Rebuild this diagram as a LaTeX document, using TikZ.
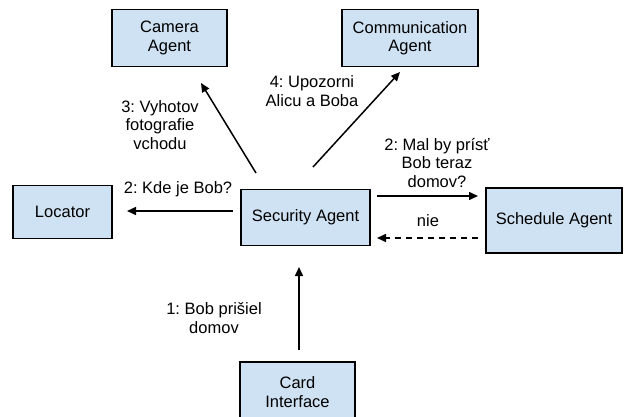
\documentclass[tikz,border=0pt]{standalone}
\usepackage{fontspec}
\setmainfont{Liberation Sans}
\usetikzlibrary{arrows.meta}
\definecolor{boxfill}{HTML}{CFE2F3}
\begin{document}
\frenchspacing
\begin{tikzpicture}[x=1pt,y=-1pt,
  agent/.style={draw=black,fill=boxfill,line width=1.3pt,align=center,inner sep=0pt,
    font=\fontsize{16.5}{18.5}\selectfont},
  lbl/.style={align=center,inner sep=0pt,font=\fontsize{16.5}{18.5}\selectfont},
  msg/.style={line width=1.5pt,-{Triangle[length=9pt,width=8pt]}},
  reply/.style={msg,dash pattern=on 6pt off 5pt}]
\useasboundingbox (0,0) rectangle (624,417);
\fill[white] (0,0) rectangle (624,417);
\node[agent,minimum width=115pt,minimum height=57pt] (cam) at (169.5,38) {Camera\\Agent};
\node[agent,minimum width=136pt,minimum height=57pt] (com) at (410,38) {Communication\\Agent};
\node[agent,minimum width=99pt,minimum height=53pt] (loc) at (62.5,212) {Locator};
\node[agent,minimum width=129pt,minimum height=56pt] (sec) at (305.5,217.5) {Security Agent};
\node[agent,minimum width=136pt,minimum height=65pt] (sch) at (554,220.5) {Schedule Agent};
\node[agent,minimum width=115pt,minimum height=60pt] (card) at (297.5,392) {Card\\Interface};
% endpoints
\coordinate (a1) at (256,173); \coordinate (a2) at (201,83);
\coordinate (b1) at (313,167); \coordinate (b2) at (400,72);
\coordinate (c1) at (233,211); \coordinate (c2) at (127,211);
\coordinate (d1) at (377,196); \coordinate (d2) at (478,196);
\coordinate (e1) at (478,238); \coordinate (e2) at (377,238);
\coordinate (f1) at (299,350); \coordinate (f2) at (299,267);
\draw[msg] (a1) -- (a2);
\draw[msg] (b1) -- (b2);
\draw[msg] (c1) -- (c2);
\draw[msg] (d1) -- (d2);
\draw[reply] (e1) -- (e2);
\draw[msg] (f1) -- (f2);
% labels
\node[lbl] (l3) at (160,125) {3: Vyhotov\\fotografie\\vchodu};
\node[lbl] (l4) at (312,91) {4: Upozorni\\Alicu a Boba};
\node[lbl] (l2a) at (178,189) {2: Kde je Bob?};
\node[lbl] (l2b) at (437,163) {2: Mal by prísť\\Bob teraz\\domov?};
\node[lbl] (lnie) at (428,221) {nie};
\node[lbl] (l1) at (214,318) {1: Bob prišiel\\domov};
\end{tikzpicture}
\end{document}
